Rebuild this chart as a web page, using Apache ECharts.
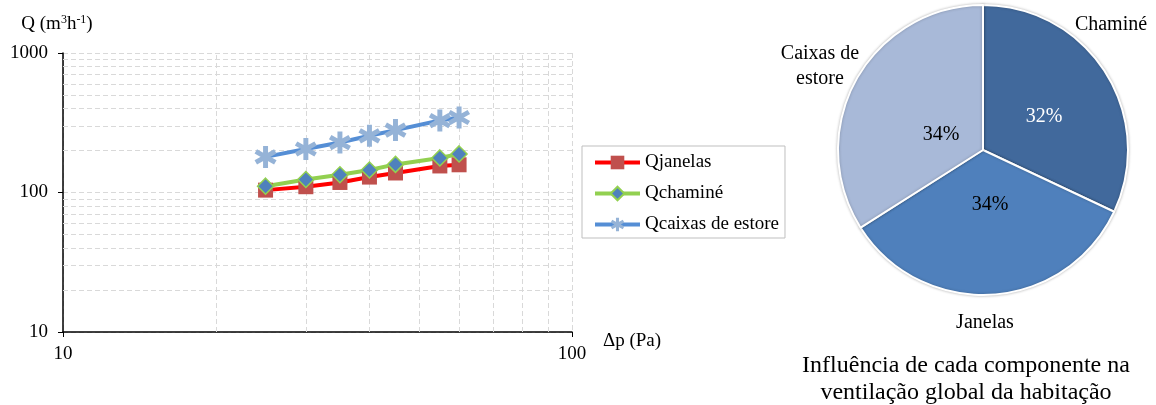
<!DOCTYPE html>
<html>
<head>
<meta charset="utf-8">
<script src="https://cdn.jsdelivr.net/npm/echarts@6/dist/echarts.min.js"></script>
<style>
html,body{margin:0;padding:0;background:#fff;}
#c{width:1156px;height:405px;}
</style>
</head>
<body>
<div id="c"></div>
<script>
// ---- data ----
const dp = [25, 30, 35, 40, 45, 55, 60];
const qJanelas = [104, 110, 118, 129, 138, 155, 158];
const qChamine = [111, 124, 134, 145, 159, 177, 189];
const qCaixas = [180, 205, 228, 255, 280, 328, 345];
const seriesNames = ['Qjanelas', 'Qchaminé', 'Qcaixas de estore'];
const minorX = [20, 30, 40, 50, 60, 70, 80, 90];
const minorY = [20, 30, 40, 50, 60, 70, 80, 90, 200, 300, 400, 500, 600, 700, 800, 900];
const pieNames = ['Chaminé', 'Janelas', 'Caixas de\nestore'];
const pieValues = [32, 34, 34];
const pieTitle = 'Influência de cada componente na\nventilação global da habitação';

// ---- styles ----
const FONT = 'Liberation Serif';
const gridColor = '#D9D9D9';
const pieColors = ['#41699C', '#4F80BC', '#A8B9D8'];
const pctColors = ['#ffffff', '#000000', '#000000'];
const pieCenter = [983, 150];
const pctOffsets = [[61, -33], [7, 55], [-42, -15]];
const nameOffsets = [[128, -125], [2, 173], [-163, -84]];
const asterisk = 'path://M7.56,-6.905 L9.76,-3.095 L-7.56,6.905 L-9.76,3.095 Z M-2.2,-10 L2.2,-10 L2.2,10 L-2.2,10 Z M-9.76,-3.095 L-7.56,-6.905 L9.76,3.095 L7.56,6.905 Z';

const pair = (xs, ys) => xs.map((x, i) => [x, ys[i]]);

const chart = echarts.init(document.getElementById('c'), null, {renderer: 'canvas'});
chart.setOption({
  animation: false,
  backgroundColor: '#fff',
  textStyle: {fontFamily: FONT, color: '#000'},
  title: {
    text: pieTitle,
    left: 961, top: 347,
    textAlign: 'center',
    textStyle: {fontFamily: FONT, fontSize: 24, fontWeight: 'normal', color: '#000', lineHeight: 27}
  },
  grid: {left: 63, right: 584, top: 53, bottom: 73, containLabel: false},
  legend: {
    data: seriesNames,
    orient: 'vertical',
    left: 582, top: 146,
    padding: [7, 6, 4, 11],
    itemGap: 12,
    itemWidth: 45, itemHeight: 17,
    lineStyle: {width: 4},
    borderColor: '#BFBFBF', borderWidth: 1,
    textStyle: {fontFamily: FONT, fontSize: 19, color: '#000'}
  },
  xAxis: {
    type: 'log', logBase: 10, min: 10, max: 100,
    name: 'Δp (Pa)', nameLocation: 'end', nameGap: 31,
    nameTextStyle: {fontFamily: FONT, fontSize: 19, color: '#000', verticalAlign: 'top'},
    axisLine: {lineStyle: {color: '#000', width: 1.5}},
    axisTick: {show: true, length: 5, lineStyle: {color: '#000'}},
    axisLabel: {fontFamily: FONT, fontSize: 19, color: '#000', margin: 13, formatter: v => String(v)},
    splitLine: {show: true, lineStyle: {color: gridColor, type: [5, 3]}}
  },
  yAxis: {
    type: 'log', logBase: 10, min: 10, max: 1000,
    name: 'Q (m{sup|3}h{sup|-1})', nameLocation: 'end', nameGap: 18,
    nameTextStyle: {fontFamily: FONT, fontSize: 19, color: '#000', padding: [0, 12, 0, 0],
      rich: {sup: {fontFamily: FONT, fontSize: 12, verticalAlign: 'top', padding: [0, 0, 9, 0]}}},
    axisLine: {lineStyle: {color: '#000', width: 1.5}},
    axisTick: {show: true, length: 5, lineStyle: {color: '#000'}},
    axisLabel: {fontFamily: FONT, fontSize: 19, color: '#000', margin: 15, formatter: v => String(v)},
    splitLine: {show: true, lineStyle: {color: gridColor, type: [5, 3]}}
  },
  series: [
    {
      name: 'grid', type: 'line', data: [], silent: true,
      markLine: {
        silent: true, z: 1, symbol: ['none', 'none'], animation: false,
        label: {show: false},
        lineStyle: {color: gridColor, type: [5, 3], width: 1},
        data: minorX.map(v => ({xAxis: v})).concat(minorY.map(v => ({yAxis: v})))
      }
    },
    {
      name: seriesNames[0], type: 'line', data: pair(dp, qJanelas),
      symbol: 'rect', symbolSize: 15,
      lineStyle: {color: '#FF0000', width: 4},
      itemStyle: {color: '#C0504D'}
    },
    {
      name: seriesNames[1], type: 'line', data: pair(dp, qChamine),
      symbol: 'diamond', symbolSize: 16,
      lineStyle: {color: '#92D050', width: 4},
      itemStyle: {color: '#4F81BD', borderColor: '#92D050', borderWidth: 1.5}
    },
    {
      name: seriesNames[2], type: 'line', data: pair(dp, qCaixas),
      symbol: asterisk, symbolSize: 22,
      lineStyle: {color: '#558ED5', width: 4},
      itemStyle: {color: '#95B3D7'}
    },
    {
      name: 'pie', type: 'pie', center: pieCenter, radius: 145,
      startAngle: 90, clockwise: true, silent: true,
      data: pieValues.map((v, i) => ({name: pieNames[i], value: v,
        itemStyle: {color: pieColors[i]},
        label: {color: pctColors[i]}})),
      itemStyle: {borderColor: '#fff', borderWidth: 2, shadowBlur: 3, shadowColor: 'rgba(0,0,0,0.25)'},
      label: {show: true, position: 'inside', formatter: p => p.value + '%', fontFamily: FONT, fontSize: 20},
      labelLine: {show: false},
      labelLayout: p => ({x: pieCenter[0] + pctOffsets[p.dataIndex][0], y: pieCenter[1] + pctOffsets[p.dataIndex][1]})
    },
    {
      name: 'pieNames', type: 'pie', center: pieCenter, radius: 145,
      startAngle: 90, clockwise: true, silent: true,
      data: pieValues.map((v, i) => ({name: pieNames[i], value: v})),
      itemStyle: {color: 'rgba(0,0,0,0)'},
      label: {show: true, position: 'inside', formatter: '{b}', fontFamily: FONT, fontSize: 20, color: '#000', lineHeight: 25, align: 'center'},
      labelLine: {show: false},
      labelLayout: p => ({x: pieCenter[0] + nameOffsets[p.dataIndex][0], y: pieCenter[1] + nameOffsets[p.dataIndex][1]})
    }
  ]
});
</script>
</body>
</html>
